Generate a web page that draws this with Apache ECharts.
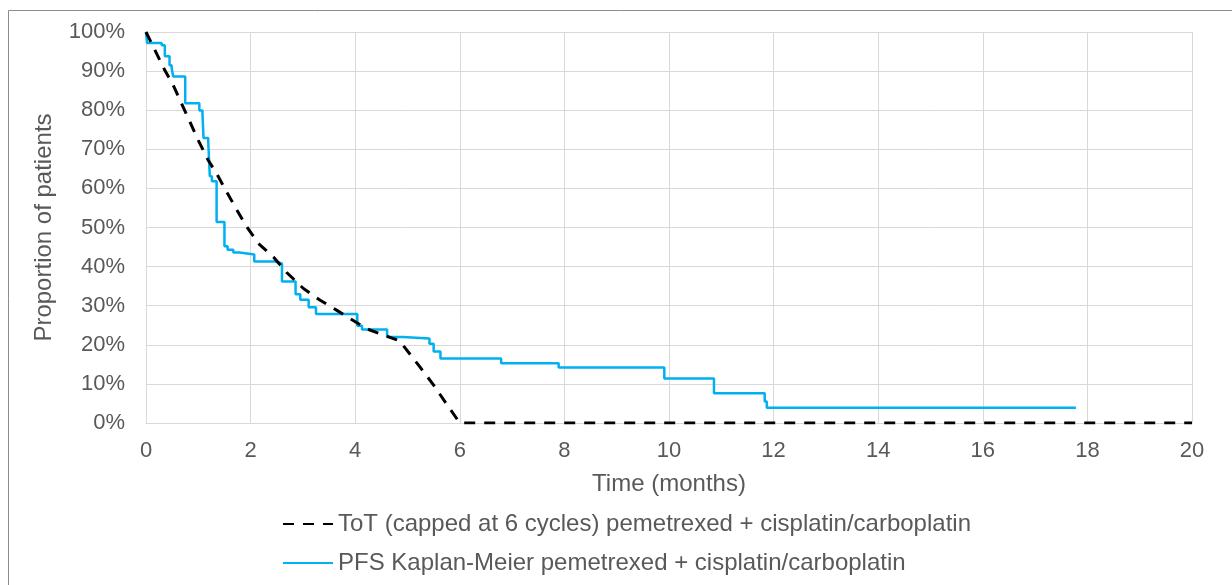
<!DOCTYPE html>
<html>
<head>
<meta charset="utf-8">
<script src="https://cdn.jsdelivr.net/npm/echarts@6/dist/echarts.min.js"></script>
<style>
html,body{margin:0;padding:0;background:#fff;}
#chart{width:1232px;height:585px;}
</style>
</head>
<body>
<div id="chart"></div>
<script>
// Series names
const seriesNames = [
  'ToT (capped at 6 cycles) pemetrexed + cisplatin/carboplatin',
  'PFS Kaplan-Meier pemetrexed + cisplatin/carboplatin'
];
// ToT curve (months, % of patients)
const totMonths = [0, 0.36, 0.52, 0.68, 0.84, 1.0, 1.19, 1.35, 1.56, 1.74, 1.93, 2.15, 2.44, 2.69, 3.01, 3.33, 3.65, 3.90, 4.22, 4.48, 4.73, 4.85, 5.24, 5.50, 5.76, 6.0, 20];
const totValues = [100, 90.2, 86.4, 81.7, 77.0, 72.3, 67.2, 63.8, 58.7, 54.4, 50.1, 45.9, 42.4, 38.5, 34.4, 31.4, 28.8, 26.7, 24.1, 22.8, 21.6, 21.0, 14.3, 9.7, 4.6, 0, 0];
// Kaplan-Meier PFS steps (event time in months, survival % after event)
const kmMonths = [0, 0.02, 0.30, 0.36, 0.45, 0.49, 0.52, 0.75, 1.02, 1.08, 1.10, 1.19, 1.22, 1.26, 1.35, 1.50, 1.56, 1.67, 1.79, 2.07, 2.47, 2.60, 2.86, 2.95, 3.11, 3.25, 4.04, 4.13, 4.61, 4.91, 5.42, 5.50, 5.63, 6.79, 7.89, 9.91, 10.86, 11.83, 11.87, 17.78];
const kmValues = [100, 97.2, 96.6, 93.8, 91.5, 90.8, 88.6, 81.8, 79.9, 79.0, 72.9, 72.0, 63.1, 61.8, 51.4, 45.2, 44.3, 43.6, 43.1, 41.3, 40.8, 36.2, 32.9, 31.5, 29.6, 27.9, 24.9, 23.9, 22.0, 21.6, 20.3, 18.3, 16.5, 15.3, 14.2, 11.4, 7.6, 5.5, 3.9, 3.9];
// Axis settings
const xTitle = 'Time (months)';
const yTitle = 'Proportion of patients';

const totData = totMonths.map((m, i) => [m, totValues[i]]);
const kmData = kmMonths.map((m, i) => [m, kmValues[i]]);

const font = "'Liberation Sans', Arial, sans-serif";
const textColor = '#595959';
const gridColor = '#d9d9d9';

const chart = echarts.init(document.getElementById('chart'), null, {renderer: 'canvas'});
chart.setOption({
  animation: false,
  backgroundColor: '#ffffff',
  graphic: [{
    type: 'rect',
    shape: {x: 8.5, y: 10.5, width: 1400, height: 800},
    style: {fill: 'none', stroke: '#8c8c8c', lineWidth: 1},
    silent: true,
    z: -1
  }],
  grid: {left: 146, right: 40, top: 32, bottom: 162, containLabel: false, outerBoundsMode: 'none'},
  legend: {
    orient: 'vertical',
    left: 277,
    top: 507,
    itemWidth: 50,
    itemHeight: 14,
    itemGap: 15,
    data: seriesNames,
    itemStyle: {opacity: 0},
    textStyle: {fontFamily: font, fontSize: 24, color: textColor}
  },
  xAxis: {
    type: 'value',
    min: 0, max: 20, interval: 2,
    name: xTitle,
    nameLocation: 'middle',
    nameGap: 49,
    nameTextStyle: {fontFamily: font, fontSize: 24, color: textColor},
    axisLine: {show: true, lineStyle: {color: gridColor, width: 1}},
    axisTick: {show: false},
    axisLabel: {fontFamily: font, fontSize: 22, color: textColor, margin: 17},
    splitLine: {show: true, lineStyle: {color: gridColor, width: 1}}
  },
  yAxis: {
    type: 'value',
    min: 0, max: 100, interval: 10,
    name: yTitle,
    nameLocation: 'middle',
    nameGap: 90,
    nameTextStyle: {fontFamily: font, fontSize: 24, color: textColor},
    axisLine: {show: true, lineStyle: {color: gridColor, width: 1}},
    axisTick: {show: false},
    axisLabel: {fontFamily: font, fontSize: 22, color: textColor, margin: 21, formatter: '{value}%'},
    splitLine: {show: true, lineStyle: {color: gridColor, width: 1}}
  },
  series: [
    {
      name: seriesNames[0],
      type: 'line',
      data: totData,
      symbol: 'none',
      z: 3,
      lineStyle: {color: '#000000', width: 3, type: [11, 9]},
      itemStyle: {color: '#000000'}
    },
    {
      name: seriesNames[1],
      type: 'line',
      data: kmData,
      step: 'end',
      symbol: 'none',
      z: 2,
      lineStyle: {color: '#00b0f0', width: 2.5},
      itemStyle: {color: '#00b0f0'}
    }
  ]
});
</script>
</body>
</html>
